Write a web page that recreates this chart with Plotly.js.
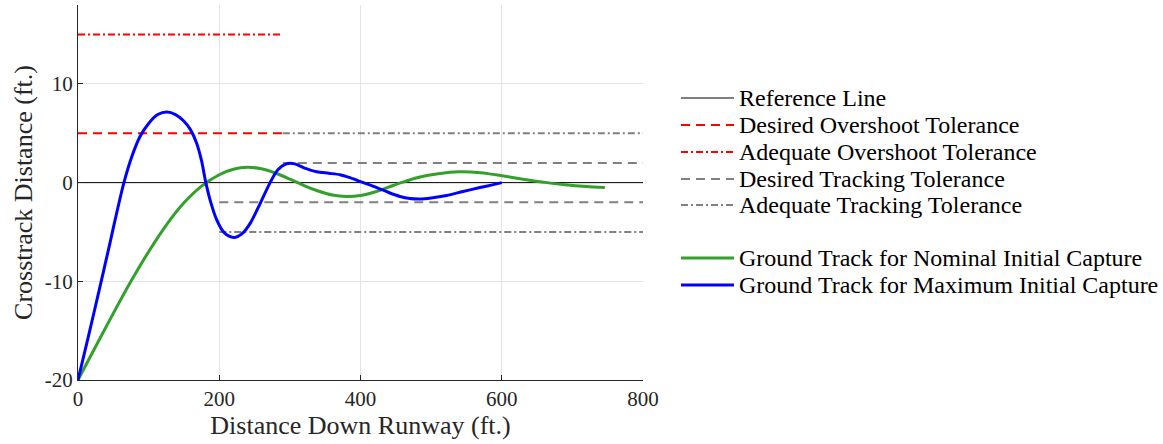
<!DOCTYPE html>
<html>
<head>
<meta charset="utf-8">
<script src="https://cdn.plot.ly/plotly-3.0.1.min.js"></script>
<style>
  html, body { margin: 0; padding: 0; background: #fff; }
  #chart { width: 1163px; height: 444px; }
</style>
</head>
<body>
<div id="chart"></div>
<script>
// Ground track for the maximum initial capture case (ft.)
const maxX = [0, 15, 30, 45, 55, 65, 76, 88, 100, 113, 126, 138, 149, 159, 168, 175, 181, 188, 196, 205, 213, 222, 232, 244, 258, 272, 283, 295, 307, 320, 338, 355, 371, 385, 400, 423, 440, 456, 470, 484, 500, 522, 545, 569, 585, 600];
const maxY = [-20, -15.5, -10.9, -6.2, -3.0, 0, 2.6, 4.7, 6.0, 6.9, 7.15, 6.9, 6.3, 5.4, 4.0, 2.2, 0, -2.0, -3.7, -4.9, -5.4, -5.55, -5.2, -4.1, -2.1, 0, 1.3, 1.9, 1.9, 1.5, 1.1, 0.95, 0.8, 0.5, 0.1, -0.5, -1.0, -1.4, -1.6, -1.65, -1.55, -1.3, -0.9, -0.5, -0.25, 0];

// Ground track for the nominal initial capture case (ft.)
const nomX = [0, 25, 50, 75, 100, 125, 150, 175, 200, 220, 240, 260, 280, 300, 320, 340, 360, 380, 400, 420, 440, 460, 480, 510, 540, 570, 600, 630, 664, 690, 720, 746];
const nomY = [-20, -16.6, -13.25, -10.0, -7.0, -4.3, -2.05, -0.35, 0.8, 1.35, 1.55, 1.4, 0.95, 0.35, -0.3, -0.85, -1.25, -1.4, -1.3, -0.95, -0.45, 0.05, 0.5, 0.9, 1.1, 1.0, 0.7, 0.35, 0, -0.22, -0.4, -0.5];

// Reference line and tolerance bands: [xStart, xEnd, y]
const referenceLine = [0, 800, 0];
const desiredOvershoot = [0, 290, 5];
const adequateOvershoot = [0, 290, 15];
const desiredTrackingUpper = [290, 800, 2];
const desiredTrackingLower = [200, 800, -2];
const adequateTrackingUpper = [290, 800, 5];
const adequateTrackingLower = [200, 800, -5];

const xTicks = [0, 200, 400, 600, 800];
const xTickText = ['0', '200', '400', '600', '800'];
const yTicks = [-20, -10, 0, 10];
const yTickText = ['-20', '-10', '0', '10'];

const legendLabels = [
  'Reference Line',
  'Desired Overshoot Tolerance',
  'Adequate Overshoot Tolerance',
  'Desired Tracking Tolerance',
  'Adequate Tracking Tolerance',
  'Ground Track for Nominal Initial Capture',
  'Ground Track for Maximum Initial Capture'
];

const FONT = '"Liberation Serif", "Times New Roman", serif';
const INK = '#262626';
const RED = '#ff0000';
const GREY = '#808080';
const GREEN = '#33a02c';
const BLUE = '#0000ff';
const DASH = '9px,6px';
const DASHDOT = '7px,3px,2px,3px';

const styles = [
  { color: '#000000', width: 1, dash: 'solid' },
  { color: RED, width: 2, dash: DASH },
  { color: RED, width: 2, dash: DASHDOT },
  { color: GREY, width: 2, dash: DASH },
  { color: GREY, width: 2, dash: DASHDOT },
  { color: GREEN, width: 3, dash: 'solid' },
  { color: BLUE, width: 3, dash: 'solid' }
];

function segment(seg, style) {
  return {
    type: 'scatter', mode: 'lines',
    x: [seg[0], seg[1]], y: [seg[2], seg[2]],
    line: style, hoverinfo: 'skip', showlegend: false
  };
}

function track(xs, ys, style) {
  return {
    type: 'scatter', mode: 'lines', x: xs, y: ys,
    line: Object.assign({ shape: 'spline', smoothing: 0.8 }, style),
    hoverinfo: 'skip', showlegend: false
  };
}

const traces = [
  segment(referenceLine, styles[0]),
  segment(desiredOvershoot, styles[1]),
  segment(adequateOvershoot, styles[2]),
  segment(desiredTrackingUpper, styles[3]),
  segment(desiredTrackingLower, styles[3]),
  segment(adequateTrackingUpper, styles[4]),
  segment(adequateTrackingLower, styles[4]),
  track(nomX, nomY, styles[5]),
  track(maxX, maxY, styles[6])
];

// Plot area geometry in pixels, used to lay out the legend block
const W = 1163, H = 444;
const M = { l: 78, r: 520, t: 5, b: 64 };
const plotW = W - M.l - M.r;
const plotH = H - M.t - M.b;
const px2x = p => (p - M.l) / plotW;
const py2y = p => (H - M.b - p) / plotH;

// Legend rows: five tolerance entries, a gap, then the two ground tracks
const rowY = [98, 125, 152, 179, 205, 258, 285];
const shapes = [];
const annotations = [];
legendLabels.forEach((label, i) => {
  const s = styles[i];
  shapes.push({
    type: 'line', xref: 'paper', yref: 'paper',
    x0: px2x(681), x1: px2x(734), y0: py2y(rowY[i]), y1: py2y(rowY[i]),
    line: { color: s.color, width: s.width, dash: s.dash }
  });
  annotations.push({
    xref: 'paper', yref: 'paper', x: px2x(737), y: py2y(rowY[i]),
    xanchor: 'left', yanchor: 'middle', showarrow: false,
    text: label, font: { family: FONT, size: 24, color: '#000' }
  });
});

const axisCommon = {
  showline: true, linecolor: INK, linewidth: 1,
  ticks: 'inside', ticklen: 5, tickcolor: INK,
  showgrid: true, gridcolor: '#e3e3e3', gridwidth: 1,
  zeroline: false, mirror: false,
  tickfont: { family: FONT, size: 21, color: INK }
};

const layout = {
  width: W, height: H,
  margin: M,
  paper_bgcolor: '#ffffff', plot_bgcolor: '#ffffff',
  showlegend: false,
  xaxis: Object.assign({}, axisCommon, {
    range: [0, 800], tickvals: xTicks, ticktext: xTickText,
    title: { text: 'Distance Down Runway (ft.)', font: { family: FONT, size: 26, color: INK }, standoff: 4 }
  }),
  yaxis: Object.assign({}, axisCommon, {
    range: [-20, 18], tickvals: yTicks, ticktext: yTickText,
    title: { text: 'Crosstrack Distance (ft.)', font: { family: FONT, size: 26, color: INK }, standoff: 4 }
  }),
  shapes: shapes,
  annotations: annotations
};

Plotly.newPlot('chart', traces, layout, { staticPlot: true, displayModeBar: false });
</script>
</body>
</html>
